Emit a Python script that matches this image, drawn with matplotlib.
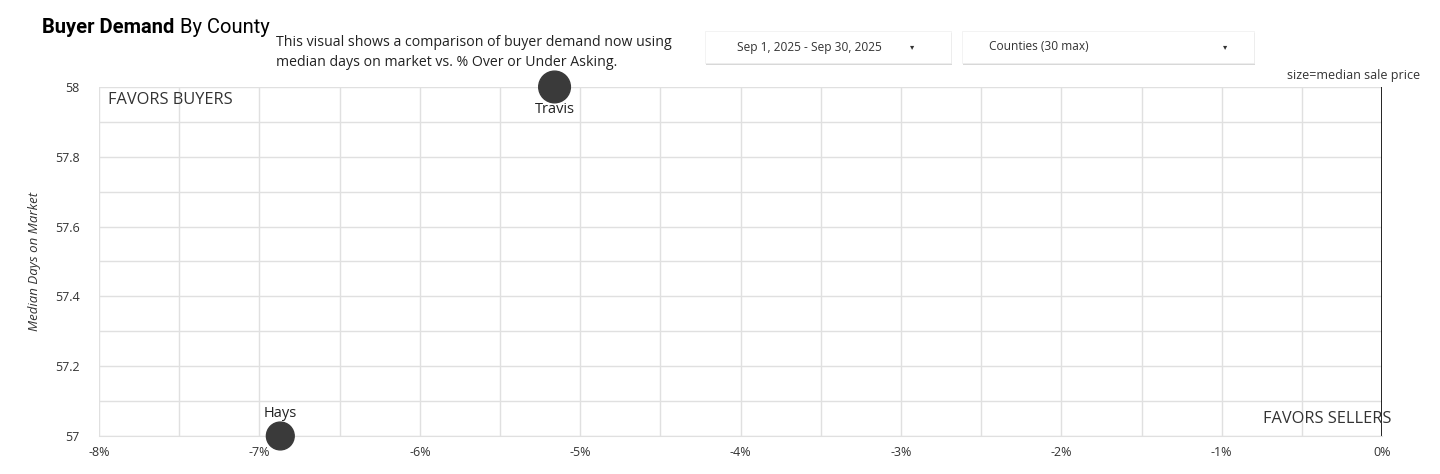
import matplotlib
matplotlib.use('Agg')
import matplotlib.pyplot as plt
from matplotlib.patches import FancyBboxPatch
from matplotlib.ticker import MultipleLocator, FuncFormatter

# data
counties = ['Travis', 'Hays']
pct_over_asking = [-5.16, -6.87]
median_dom = [58, 57]
bubble_size = [520, 400]

x_ticks = [-8, -7, -6, -5, -4, -3, -2, -1, 0]
y_ticks = [57, 57.2, 57.4, 57.6, 57.8, 58]

plt.rcParams['font.family'] = ['Open Sans', 'DejaVu Sans']

fig = plt.figure(figsize=(14.4, 4.74), dpi=100)
ax = fig.add_axes([0.0688, 0.0802, 0.8910, 0.7363])

ax.set_xlim(-8, 0)
ax.set_ylim(57, 58)
ax.set_xticks(x_ticks)
ax.set_yticks(y_ticks)
ax.xaxis.set_minor_locator(MultipleLocator(0.5))
ax.yaxis.set_minor_locator(MultipleLocator(0.1))
ax.xaxis.set_major_formatter(FuncFormatter(lambda v, p: f'{v:.0f}%'))
ax.yaxis.set_major_formatter(FuncFormatter(lambda v, p: f'{v:g}'))
ax.grid(True, which='both', color='#e0e0e0', linewidth=1)
ax.tick_params(which='both', length=0, labelsize=9, colors='#333333')
ax.tick_params(axis='x', pad=7)
ax.tick_params(axis='y', pad=14)
for s in ['top', 'left', 'right']:
    ax.spines[s].set_visible(False)
ax.spines['bottom'].set_color('#e0e0e0')
ax.axvline(0, color='black', linewidth=1.2)
ax.set_axisbelow(True)

ax.scatter(pct_over_asking, median_dom, s=bubble_size, color='#3a3a3a',
           zorder=3, clip_on=False)
for name, x, y in zip(counties, pct_over_asking, median_dom):
    ax.annotate(name, (x, y), xytext=(0, 16 if y == 57 else -16),
                textcoords='offset points', ha='center', va='center',
                fontsize=10.5, color='#222222', zorder=4)

ax.set_ylabel('Median Days on Market', fontsize=9.5, style='italic',
              color='#333333', labelpad=10)

ax.text(0.007, 0.985, 'FAVORS BUYERS', transform=ax.transAxes, fontsize=11.8,
        color='#333333', va='top', ha='left')
ax.text(1.007, 0.025, 'FAVORS SELLERS', transform=ax.transAxes, fontsize=11.8,
        color='#333333', va='bottom', ha='right')

# header
t1 = fig.text(0.029, 0.93, 'Buyer Demand', fontsize=14.5, fontweight='bold',
              family=['Roboto', 'DejaVu Sans'], color='black')
ax.annotate('By County', xy=(1, 0), xycoords=t1, xytext=(4, 0),
            textcoords='offset points', fontsize=14.5, va='bottom', ha='left',
            family=['Roboto', 'DejaVu Sans'], color='black',
            annotation_clip=False)
fig.text(0.192, 0.86, 'This visual shows a comparison of buyer demand now using\n'
         'median days on market vs. % Over or Under Asking.',
         fontsize=10.2, color='#222222', linespacing=1.5)
fig.text(0.986, 0.833, 'size=median sale price', fontsize=9, color='#333333',
         ha='right')

# dropdown controls
boxes = [(705, 951, 'Sep 1, 2025 - Sep 30, 2025', 912),
         (962, 1254, 'Counties (30 max)', 1225)]
for x0, x1, label, arrow_x in boxes:
    y0, y1 = 474 - 63, 474 - 31
    shadow = FancyBboxPatch((x0 / 1440 + 0.0005, (y0 - 2) / 474), (x1 - x0) / 1440,
                            (y1 - y0) / 474, boxstyle='square,pad=0',
                            transform=fig.transFigure, facecolor='#d8d8d8',
                            edgecolor='none')
    box = FancyBboxPatch((x0 / 1440, y0 / 474), (x1 - x0) / 1440, (y1 - y0) / 474,
                         boxstyle='square,pad=0', transform=fig.transFigure,
                         facecolor='white', edgecolor='#eeeeee', linewidth=0.5)
    fig.patches.extend([shadow, box])
    yc = (y0 + y1) / 2 / 474
    tx = x0 + 32 if arrow_x < 1000 else x0 + 27
    fig.text(tx / 1440, yc, label, fontsize=8.6, color='#333333', va='center')
    fig.text(arrow_x / 1440, yc, '▾', fontsize=6, color='#333333', va='center',
             ha='center', family=['DejaVu Sans'])

fig.savefig('out.png', dpi=100)
